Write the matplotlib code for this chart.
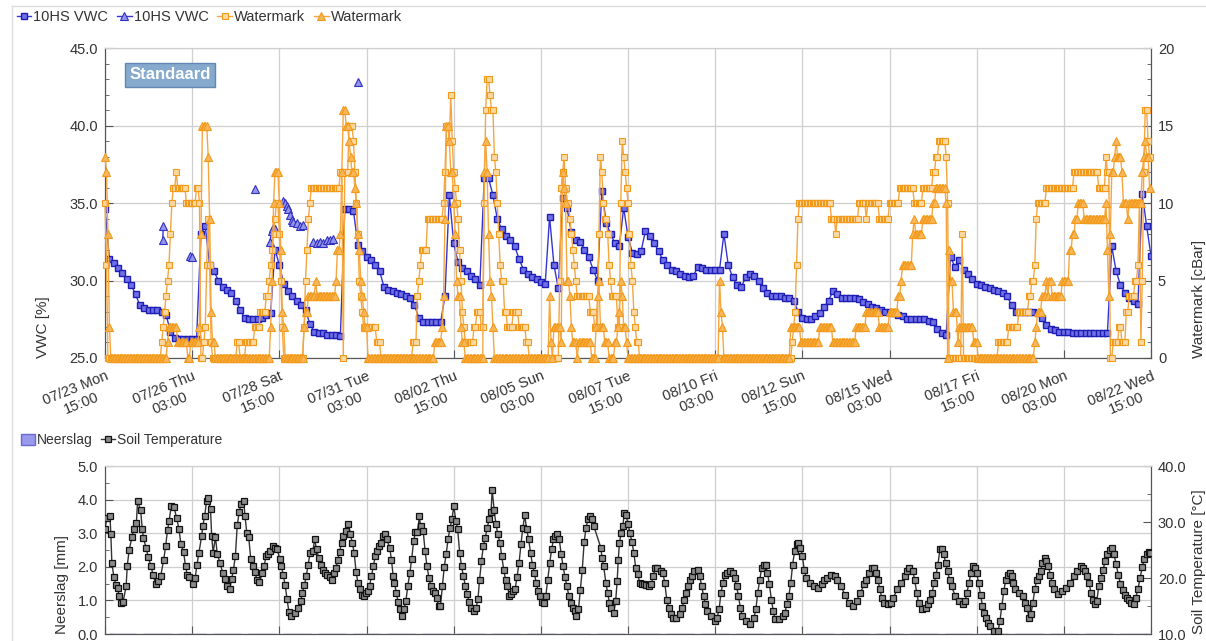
import numpy as np
import pandas as pd
import matplotlib
matplotlib.use("Agg")
import matplotlib.pyplot as plt
import matplotlib.dates as mdates
from matplotlib.lines import Line2D
from matplotlib.patches import Patch
from matplotlib.ticker import MultipleLocator, FormatStrFormatter

plt.rcParams['font.family'] = ['Liberation Sans', 'DejaVu Sans']

# ---- data -------------------------------------------------------------
start = pd.Timestamp("2018-07-23 15:00")
total_hours = 720

# 10HS VWC (squares), one reading every 3 hours, one row per day
vwc_sq = [
    34.6, 31.4, 31.1, 30.8, 30.5, 30.1, 29.7, 29.1,
    28.4, 28.2, 28.1, 28.1, 28.1, 28.0, 27.8, 26.7,
    26.3, 26.2, 26.2, 26.2, 26.2, 26.2, 33.0, 33.5,
    31.0, 30.6, 30.0, 29.6, 29.4, 29.2, 28.7, 28.1,
    27.6, 27.5, 27.5, 27.5, 27.6, 27.8, 27.9, 32.0,
    31.0, 29.8, 29.3, 29.0, 28.7, 28.4, 28.1, 27.2,
    26.7, 26.6, 26.6, 26.5, 26.5, 26.5, 26.4, 34.6,
    34.6, 34.5, 32.3, 31.9, 31.5, 31.3, 31.0, 30.6,
    29.6, 29.4, 29.3, 29.2, 29.1, 29.0, 28.9, 28.4,
    27.6, 27.3, 27.3, 27.3, 27.3, 27.3, 29.0, 35.5,
    32.4, 31.2, 30.8, 30.6, 30.3, 30.1, 29.7, 36.6,
    36.6, 35.5, 34.0, 33.3, 32.9, 32.6, 32.2, 31.4,
    30.7, 30.4, 30.2, 30.1, 29.9, 29.8, 34.1, 31.0,
    29.5, 35.3, 34.7, 33.1, 32.6, 32.5, 32.0, 31.5,
    30.7, 30.0, 35.8, 33.7, 33.0, 32.4, 32.2, 34.7,
    32.8, 31.8, 31.7, 31.9, 33.2, 32.9, 32.4, 31.9,
    31.3, 31.0, 30.7, 30.6, 30.4, 30.3, 30.2, 30.3,
    30.9, 30.8, 30.7, 30.7, 30.7, 30.7, 33.0, 31.0,
    30.2, 29.7, 29.6, 30.2, 30.4, 30.3, 30.0, 29.5,
    29.2, 29.0, 29.0, 29.0, 28.9, 28.9, 28.7, 28.0,
    27.6, 27.5, 27.5, 27.7, 27.9, 28.3, 28.7, 29.3,
    29.1, 28.9, 28.9, 28.9, 28.9, 28.8, 28.6, 28.5,
    28.3, 28.2, 28.1, 28.0, 28.0, 27.9, 27.8, 27.7,
    27.5, 27.5, 27.5, 27.5, 27.5, 27.4, 27.3, 26.9,
    26.6, 26.5, 31.5, 30.9, 31.3, 30.7, 30.4, 30.1,
    29.8, 29.7, 29.6, 29.5, 29.4, 29.3, 29.2, 29.0,
    28.4, 28.0, 28.0, 28.0, 28.0, 28.0, 27.9, 27.6,
    27.1, 26.9, 26.8, 26.7, 26.7, 26.7, 26.6, 26.6,
    26.6, 26.6, 26.6, 26.6, 26.6, 26.6, 26.6, 32.2,
    30.6, 29.7, 29.2, 28.9, 28.7, 28.5, 35.6, 33.5,
    31.6,
]

# 10HS VWC (triangles): a few short bursts, hours since start
vwc_tri_hours = [
    [39.7, 40.1],
    [58.5, 59.6],
    [103.2],
    [113.5, 114.7, 115.8, 117.0],
    [122.7, 123.9, 125.0, 126.1, 127.3, 128.4, 129.6, 131.9, 134.2, 136.5],
    [143.3, 145.6, 147.9, 150.2, 152.5, 154.8, 157.1],
    [174.3],
]
vwc_tri_values = [
    [32.6, 33.5],
    [31.6, 31.5],
    [35.9],
    [32.5, 33.2, 33.4, 33.3],
    [35.1, 35.0, 34.8, 34.6, 34.2, 33.9, 33.8, 33.7, 33.5, 33.6],
    [32.5, 32.4, 32.5, 32.4, 32.6, 32.6, 32.7],
    [42.8],
]

# Watermark (squares), hourly readings in cBar: hour where a level starts, level
wm_sq_start = [
    0, 1, 2, 39, 40, 41, 42, 43, 44, 45, 46, 47, 49, 50, 56, 63, 65, 66, 68, 69,
    70, 71, 72, 73, 74, 91, 93, 97, 103, 107, 111, 113, 114, 115, 116, 117, 118,
    120, 121, 122, 123, 137, 138, 139, 140, 141, 142, 162, 164, 165, 168, 171,
    172, 173, 174, 175, 176, 177, 178, 187, 190, 212, 215, 216, 217, 218, 222,
    233, 234, 235, 237, 238, 239, 240, 241, 242, 243, 244, 245, 246, 247, 248,
    254, 256, 259, 261, 262, 263, 265, 266, 268, 269, 270, 271, 272, 273, 275,
    277, 281, 285, 290, 292, 313, 314, 315, 316, 317, 318, 320, 321, 322, 323,
    324, 325, 334, 337, 340, 341, 342, 343, 344, 346, 347, 348, 349, 353, 355,
    356, 357, 358, 359, 360, 361, 362, 363, 364, 365, 366, 368, 473, 474, 475,
    476, 477, 478, 500, 503, 504, 519, 524, 525, 533, 540, 547, 557, 563, 570,
    572, 574, 579, 580, 581, 590, 591, 615, 622, 629, 636, 638, 640, 641, 642,
    648, 667, 684, 689, 690, 692, 694, 698, 700, 703, 705, 709, 711, 712, 713,
    714, 715, 716, 718, 719,
]
wm_sq_level = [
    10, 6, 0, 1, 2, 3, 4, 5, 6, 8, 10, 11, 12, 11, 10, 11, 10, 0, 1, 2,
    6, 9, 6, 1, 0, 1, 0, 1, 2, 3, 4, 5, 6, 7, 8, 9, 10,
    8, 5, 2, 0, 2, 5, 7, 9, 10, 11, 12, 0, 12, 15, 14,
    12, 10, 8, 5, 4, 3, 2, 1, 0, 1, 4, 5, 6, 7, 9,
    10, 12, 15, 14, 17, 14, 12, 11, 10, 9, 7, 5, 3, 2, 1,
    2, 3, 2, 10, 16, 18, 17, 16, 13, 12, 10, 8, 6, 5, 3,
    2, 3, 2, 1, 0, 5, 11, 12, 13, 11, 10, 9, 8, 7, 6,
    5, 4, 3, 2, 8, 13, 12, 10, 9, 8, 6, 5, 4, 2, 10,
    14, 13, 12, 11, 10, 8, 6, 5, 3, 2, 1, 0, 1, 2, 3,
    6, 9, 10, 9, 8, 9, 10, 9, 10, 9, 10, 11, 10, 11, 12,
    13, 14, 13, 10, 0, 8, 0, 1, 2, 3, 4, 5, 6, 9, 10,
    11, 12, 11, 13, 12, 0, 1, 2, 1, 3, 4, 5, 6, 10, 1,
    5, 12, 16, 14, 13,
]

# Watermark (triangles), same layout
wm_tri_start = [
    0, 1, 2, 3, 4, 43, 44, 50, 57, 59, 65, 66, 67, 71, 72, 73, 74, 76,
    114, 115, 116, 117, 120, 121, 122, 123, 124, 137, 138, 140, 145, 146, 159,
    160, 162, 163, 164, 166, 168, 169, 170, 172, 173, 174, 175, 176, 177, 178,
    179, 181, 227, 232, 233, 234, 235, 237, 238, 240, 241, 242, 243, 245, 246,
    248, 261, 262, 263, 264, 265, 266, 267, 268, 306, 307, 308, 309, 314, 315,
    316, 317, 318, 320, 321, 322, 325, 326, 335, 338, 339, 340, 341, 344, 347,
    351, 353, 354, 355, 356, 357, 359, 360, 423, 424, 425, 426, 472, 479, 492,
    501, 517, 524, 533, 540, 546, 548, 549, 556, 557, 558, 563, 570, 572, 579,
    580, 581, 582, 584, 587, 588, 598, 601, 640, 641, 642, 645, 648, 649, 650,
    652, 659, 664, 666, 668, 670, 674, 689, 690, 691, 692, 693, 695, 696, 697,
    700, 701, 704, 705, 714, 715, 716, 717, 719,
]
wm_tri_level = [
    13, 12, 8, 2, 0, 1, 2, 1, 0, 1, 2, 8, 15, 13, 9, 3, 1, 0,
    2, 5, 10, 12, 10, 7, 3, 2, 0, 2, 3, 4, 5, 4, 5,
    7, 8, 12, 16, 15, 14, 13, 12, 11, 10, 8, 7, 5, 4, 3,
    2, 0, 1, 2, 4, 9, 15, 14, 12, 10, 8, 5, 4, 2, 1,
    0, 12, 14, 12, 8, 5, 4, 2, 0, 4, 1, 0, 2, 1, 12,
    11, 10, 5, 4, 2, 1, 0, 1, 0, 2, 4, 5, 2, 1, 0,
    1, 2, 3, 5, 4, 2, 1, 0, 5, 3, 2, 0, 2, 1, 2,
    1, 2, 3, 2, 3, 4, 5, 6, 8, 9, 8, 9, 10, 11, 10,
    0, 7, 5, 3, 1, 2, 1, 0, 1, 2, 3, 4, 5, 4, 5,
    4, 5, 7, 8, 9, 10, 9, 10, 7, 4, 8, 12, 13, 14, 13,
    12, 10, 9, 10, 12, 13, 14, 13, 11,
]

# Soil temperature: reading times (hours since start) and values in °C
soil_hours = [
    0, 1.3, 3.4, 4.0, 4.7, 6.1, 7.4, 8.7, 9.8, 11.3, 12.4, 14.5, 15.3, 16.6,
    18.5, 19.8, 21.6, 22.4, 24.5, 25.6, 26.4, 28.2, 29.8, 31.7, 33.0, 34.8,
    36.4, 38.3, 40.4, 41.7, 43.0, 44.1, 45.6, 47.5, 49.3, 50.9, 52.2, 54.1,
    55.4, 56.7, 58.0, 60.7, 62.0, 63.3, 64.6, 66.5, 67.3, 68.6, 69.9, 70.7,
    72.6, 73.4, 74.4, 76.0, 77.3, 79.2, 81.0, 82.6, 83.9, 85.8, 87.1, 88.4,
    89.7, 91.0, 92.3, 93.7, 95.5, 96.3, 97.6, 98.9, 100.3, 101.6, 102.9,
    104.7, 106.3, 108.2, 109.5, 110.8, 112.1, 113.5, 115.3, 116.9, 118.7,
    120.1, 121.4, 122.7, 124.0, 125.3, 126.6, 128.0, 130.6, 132.7, 134.6,
    135.9, 137.2, 138.5, 139.8, 141.2, 143.0, 144.3, 145.6, 147.2, 148.5,
    149.9, 151.7, 153.0, 154.9, 156.2, 157.5, 159.1, 160.2, 161.5, 162.8,
    164.1, 165.7, 167.5, 168.9, 170.2, 171.5, 172.8, 174.1, 175.5, 176.8,
    178.1, 179.4, 180.7, 182.1, 183.4, 184.7, 186.0, 187.3, 188.7, 190.0,
    191.3, 192.6, 193.9, 196.0, 197.1, 198.4, 199.2, 200.5, 201.8, 203.2,
    204.5, 205.8, 207.1, 208.4, 209.8, 211.1, 212.4, 213.7, 215.0, 216.4,
    217.2, 219.0, 220.3, 221.6, 223.0, 224.3, 225.6, 226.9, 228.2, 229.6,
    230.9, 232.2, 233.5, 234.8, 236.1, 237.5, 238.8, 240.1, 241.4, 242.7,
    244.1, 245.4, 246.7, 248.0, 249.3, 250.7, 252.0, 253.8, 255.4, 256.7,
    257.8, 259.1, 260.4, 261.7, 263.1, 264.4, 265.7, 266.5, 267.8, 269.1,
    270.4, 271.8, 273.1, 274.4, 275.7, 277.0, 278.4, 279.7, 281.0, 282.3,
    283.6, 285.0, 286.3, 287.6, 288.9, 290.2, 291.6, 292.9, 294.2, 295.5,
    296.8, 298.2, 299.5, 300.8, 302.1, 303.4, 304.7, 306.1, 307.4, 308.7,
    310.0, 311.3, 312.7, 314.0, 315.3, 316.6, 317.9, 319.3, 320.6, 321.9,
    323.2, 324.5, 325.9, 327.2, 328.5, 329.8, 331.1, 332.5, 333.8, 335.1,
    336.4, 341.3, 342.1, 343.2, 344.8, 345.9, 347.2, 348.5, 350.1, 351.5,
    352.5, 353.3, 354.1, 355.2, 356.5, 357.3, 358.7, 360.0, 361.3, 362.7,
    364.0, 365.3, 366.7, 368.0, 369.3, 370.7, 372.5, 374.7, 376.0, 377.3,
    378.7, 380.0, 382.7, 384.0, 385.3, 386.7, 388.0, 389.3, 390.7, 393.3,
    396.0, 397.3, 398.7, 400.0, 401.3, 402.7, 404.0, 405.3, 408.0, 409.3,
    410.7, 412.0, 413.3, 414.7, 417.3, 420.0, 421.3, 422.7, 424.0, 425.3,
    426.7, 428.0, 430.1, 432.0, 433.3, 434.7, 436.0, 437.3, 438.7, 441.3,
    444.0, 446.7, 448.0, 449.3, 450.7, 452.0, 453.3, 454.7, 456.0, 457.3,
    458.7, 460.0, 461.3, 464.0, 466.7, 468.0, 469.3, 470.7, 472.0, 473.3,
    474.7, 476.0, 477.3, 478.7, 480.0, 481.3, 482.7, 485.3, 488.0, 490.7,
    493.3, 494.7, 497.3, 500.0, 502.7, 504.0, 506.7, 509.3, 512.0, 514.7,
    517.3, 520.0, 522.7, 524.0, 526.1, 528.0, 529.3, 530.7, 532.0, 533.3,
    534.7, 536.0, 538.7, 541.3, 542.7, 545.3, 548.0, 550.7, 552.0, 553.3,
    556.0, 557.3, 558.7, 560.0, 562.7, 565.3, 566.7, 568.0, 569.3, 570.7,
    572.0, 573.3, 574.7, 576.0, 577.3, 578.7, 580.0, 581.3, 582.7, 585.3,
    588.0, 590.7, 592.0, 593.3, 594.7, 596.0, 597.3, 598.7, 600.0, 601.3,
    602.7, 604.0, 605.3, 606.7, 608.0, 609.3, 612.0, 614.7, 616.0, 617.3,
    618.7, 620.0, 621.3, 622.7, 624.0, 625.3, 626.7, 629.3, 632.0, 633.3,
    634.7, 636.0, 637.3, 638.7, 640.0, 641.3, 642.7, 644.0, 645.3, 646.7,
    648.0, 649.3, 650.7, 652.0, 653.3, 656.0, 658.7, 661.3, 664.0, 666.7,
    669.3, 672.0, 673.3, 674.7, 676.0, 677.3, 678.7, 680.0, 681.3, 682.7,
    684.0, 685.5, 687.0, 688.5, 690.0, 691.5, 693.0, 694.5, 696.0, 697.5,
    699.0, 700.5, 702.0, 703.5, 705.0, 706.5, 708.0, 709.5, 711.0, 712.5,
    714.0, 715.5, 717.0, 718.5, 719.5,
]
soil_temp = [
    28.7, 30.8, 31.0, 27.8, 22.6, 20.2, 18.8, 18.2, 16.7, 15.6, 15.7, 18.5, 22.2, 25.0,
    27.3, 28.8, 29.9, 33.8, 32.1, 28.8, 27.2, 25.4, 23.7, 22.1, 20.6, 19.0,
    19.4, 20.3, 23.3, 25.7, 28.5, 30.2, 32.9, 32.6, 30.7, 28.7, 26.1, 24.6,
    22.1, 20.5, 20.2, 18.9, 20.0, 22.4, 24.5, 27.5, 29.3, 31.1, 33.8, 34.2,
    32.3, 27.5, 24.5, 27.3, 24.2, 22.7, 20.9, 19.8, 18.6, 18.0, 19.8, 21.5,
    23.9, 29.4, 31.7, 33.3, 33.8, 31.1, 28.1, 27.3, 23.4, 22.1, 21.1,
    19.7, 19.2, 20.9, 22.1, 23.9, 24.2, 24.8, 25.7, 25.4, 25.1,
    23.4, 22.1, 20.5, 18.7, 16.2, 13.9, 13.2, 13.8, 14.7, 15.9,
    17.4, 18.7, 20.3, 22.4, 24.5, 24.8, 26.9, 25.1, 23.6, 22.4,
    21.5, 20.9, 20.6, 20.2, 19.7, 20.9, 21.8, 23.3, 24.7, 26.3,
    27.5, 28.4, 29.7, 27.8, 26.3, 24.5, 21.1, 19.1, 18.0, 16.9,
    16.8, 17.4, 17.7, 18.6, 20.3, 22.1, 23.9, 24.9, 25.7, 26.3,
    27.5, 27.8, 26.9, 25.4, 23.3, 20.3, 19.1, 17.4, 15.7, 14.4,
    13.2, 14.4, 15.9, 18.6, 20.9, 23.4, 26.6, 28.2, 28.2, 31.0,
    29.3, 28.4, 24.8, 22.1, 20.0, 18.6, 17.7, 17.4, 16.5, 15.0,
    15.0, 18.6, 22.0, 24.2, 26.9, 29.0, 30.5, 32.9, 30.2, 28.8,
    24.5, 22.1, 20.3, 18.6, 17.1, 15.7, 14.7, 14.1, 14.7, 16.2,
    19.7, 23.0, 25.7, 27.2, 29.0, 30.5, 31.8, 35.8, 32.2, 29.6,
    27.8, 26.3, 23.9, 21.5, 19.7, 18.6, 16.8, 17.1, 17.7, 18.0,
    20.2, 22.7, 26.0, 29.0, 31.2, 28.7, 26.9, 24.5, 22.4, 20.9,
    19.1, 17.7, 16.8, 15.7, 15.6, 16.8, 19.7, 22.7, 25.1, 26.9,
    27.5, 27.8, 26.9, 24.2, 22.1, 20.2, 18.6, 16.8, 15.6, 14.7,
    14.1, 13.2, 14.4, 17.9, 21.5, 26.4, 29.0, 30.5, 31.1, 30.5,
    29.3, 25.4, 23.6, 22.1, 19.1, 17.4, 15.6, 14.7, 13.8, 15.9,
    19.4, 23.3, 26.3, 28.0, 29.2, 31.6, 31.2, 29.6, 28.1, 26.4,
    24.5, 21.8, 20.8, 19.1, 19.0, 18.9, 18.7, 18.5, 18.9, 20.3,
    21.8, 21.8, 21.2, 20.9, 19.1, 16.1, 14.7, 13.5, 12.8, 12.8,
    13.5, 14.7, 16.1, 17.4, 18.6, 19.7, 20.3, 21.2, 21.5, 20.3,
    18.6, 16.8, 15.3, 14.1, 13.2, 12.3, 12.9, 14.4, 17.4, 19.1,
    20.6, 20.9, 21.2, 20.9, 20.0, 18.6, 16.8, 14.7, 13.2, 12.3,
    11.7, 12.9, 14.4, 17.4, 19.7, 21.8, 22.4, 22.3, 20.9, 18.9,
    16.1, 14.1, 12.6, 12.6, 13.2, 13.8, 15.3, 16.8, 19.1, 22.4,
    24.8, 26.0, 26.3, 25.4, 23.9, 21.5, 20.0, 19.1, 18.5, 18.3,
    18.9, 19.7, 20.0, 20.6, 20.3, 19.7, 18.5, 17.0, 15.6, 15.0,
    15.9, 17.4, 18.9, 19.7, 20.9, 21.8, 21.8, 20.9, 19.7, 18.0,
    16.5, 15.6, 15.3, 15.6, 16.5, 18.0, 19.1, 20.3, 21.2, 21.8,
    21.2, 19.7, 17.4, 15.6, 14.4, 14.7, 15.3, 16.1, 17.4, 19.1,
    20.6, 22.4, 25.1, 25.1, 24.2, 22.7, 21.2, 19.7, 18.5, 16.8,
    15.9, 15.3, 15.9, 17.4, 19.1, 20.9, 22.1, 21.8, 20.9, 19.1,
    17.0, 15.0, 13.8, 12.9, 12.0, 11.4, 10.5, 10.5, 12.3, 15.0,
    17.7, 19.7, 20.6, 20.9, 20.3, 19.1, 18.0, 17.4, 16.8, 15.6,
    14.7, 12.9, 13.5, 15.6, 18.0, 19.7, 20.3, 21.2, 22.7, 23.6,
    23.0, 22.1, 20.6, 19.1, 18.0, 17.1, 17.7, 18.3, 19.1, 20.3,
    21.2, 22.1, 21.8, 21.2, 20.3, 19.1, 17.4, 16.1, 15.3, 15.9,
    18.5, 20.0, 21.5, 23.0, 24.2, 25.0, 25.3, 24.2, 22.5, 20.5,
    19.0, 17.8, 17.0, 16.4, 16.0, 15.6, 15.4, 16.5, 18.0, 20.0,
    22.0, 23.4, 24.3, 24.6, 24.5,
]

# Neerslag (rain), daily totals in mm: no rain in this period
neerslag = [0.0, 0.0, 0.0, 0.0, 0.0, 0.0, 0.0, 0.0, 0.0, 0.0,
            0.0, 0.0, 0.0, 0.0, 0.0, 0.0, 0.0, 0.0, 0.0, 0.0,
            0.0, 0.0, 0.0, 0.0, 0.0, 0.0, 0.0, 0.0, 0.0, 0.0]

# ---- time helpers -----------------------------------------------------
t0 = mdates.date2num(start.to_pydatetime())
t_end = t0 + total_hours / 24


def hours_to_num(h):
    return t0 + np.asarray(h, dtype=float) / 24


def expand_levels(starts, levels):
    counts = np.diff(list(starts) + [total_hours])
    return np.arange(total_hours), np.repeat(levels, counts)


t3 = hours_to_num(np.arange(len(vwc_sq)) * 3)
wm_sq_h, wm_sq_v = expand_levels(wm_sq_start, wm_sq_level)
wm_tri_h, wm_tri_v = expand_levels(wm_tri_start, wm_tri_level)
rain_t = hours_to_num(np.arange(len(neerslag)) * 24 + 12)

tick_pos = [t0 + 2.5 * k for k in range(13)]
tick_lab = [mdates.num2date(t).strftime("%m/%d %a\n%H:%M") for t in tick_pos]

# ---- styling ----------------------------------------------------------
txt = '#333333'
spine_c = '#555555'
grid_c = '#cfcfcf'
blue = '#3535d5'
orange = '#f5a640'

fig = plt.figure(figsize=(12.06, 6.41), dpi=100)
ax = fig.add_axes([0.0871, 0.4415, 0.8673, 0.4836])
ax2 = ax.twinx()
ax3 = fig.add_axes([0.0871, 0.0109, 0.8673, 0.2621])
ax4 = ax3.twinx()

# light frame around the chart
fig.add_artist(Line2D([12 / 1206, 12 / 1206], [0, 1 - 6 / 641], color='#dddddd', lw=1))
fig.add_artist(Line2D([12 / 1206, 1], [1 - 6 / 641, 1 - 6 / 641], color='#dddddd', lw=1))

# ---- top panel --------------------------------------------------------
l1, = ax.plot(t3, vwc_sq, color=blue, lw=1, marker='s', ms=4.6,
              mfc='#6f6fe6', mec='#1e1eb5', mew=1.0, zorder=3)
l2 = None
for hh, vv in zip(vwc_tri_hours, vwc_tri_values):
    ln, = ax.plot(hours_to_num(hh), vv, color=blue, lw=1, marker='^', ms=5.5,
                  mfc='#9494ee', mec='#3030c0', mew=0.8, zorder=3)
    if l2 is None:
        l2 = ln

l3, = ax2.plot(hours_to_num(wm_sq_h), wm_sq_v, color=orange, lw=1, marker='s',
               ms=4.5, mfc='#fcd8a2', mec='#f39a1a', mew=0.8, clip_on=False, zorder=3)
l4, = ax2.plot(hours_to_num(wm_tri_h), wm_tri_v, color=orange, lw=1, marker='^',
               ms=6, mfc='#f7b65a', mec='#f39a1a', mew=0.8, clip_on=False, zorder=4)

ax.set_xlim(t0, t_end)
ax.set_ylim(25, 45)
ax2.set_ylim(0, 20)
ax.yaxis.set_major_locator(MultipleLocator(5))
ax.yaxis.set_minor_locator(MultipleLocator(1))
ax.yaxis.set_major_formatter(FormatStrFormatter('%.1f'))
ax2.yaxis.set_major_locator(MultipleLocator(5))
ax2.yaxis.set_minor_locator(MultipleLocator(1))
ax2.yaxis.set_major_formatter(FormatStrFormatter('%d'))

ax.set_xticks(tick_pos)
ax.set_xticklabels(tick_lab, rotation=22, ha='right', va='top',
                   rotation_mode='anchor', multialignment='center')

ax.set_ylabel('VWC [%]', loc='bottom', fontsize=11, color=txt)
ax.yaxis.set_label_coords(-0.053, 0.0)
ax2.set_ylabel('Watermark [cBar]', loc='bottom', fontsize=11, color=txt)
ax2.yaxis.set_label_coords(1.039, 0.0)

ax2.text(0.062, 0.913, 'Standaard', transform=ax2.transAxes, ha='center',
         va='center', color='white', fontsize=12, fontweight='bold', zorder=10,
         bbox=dict(boxstyle='square,pad=0.25', fc='#86aacd', ec='#6088b3', lw=1))

# ---- bottom panel -----------------------------------------------------
ax3.bar(rain_t, neerslag, width=0.8, color='#9999ee', edgecolor='#6b6bcc')
l5, = ax4.plot(hours_to_num(soil_hours), soil_temp, color='#333333', lw=1,
               marker='s', ms=4.6, mfc='#8a8a8a', mec='#111111', mew=0.9, zorder=3)

ax3.set_xlim(t0, t_end)
ax3.set_ylim(0, 5)
ax4.set_ylim(10, 40)
ax3.yaxis.set_major_locator(MultipleLocator(1))
ax3.yaxis.set_minor_locator(MultipleLocator(0.5))
ax3.yaxis.set_major_formatter(FormatStrFormatter('%.1f'))
ax4.yaxis.set_major_locator(MultipleLocator(10))
ax4.yaxis.set_minor_locator(MultipleLocator(5))
ax4.yaxis.set_major_formatter(FormatStrFormatter('%.1f'))
ax3.set_xticks(tick_pos)
ax3.tick_params(axis='x', labelbottom=False)

ax3.set_ylabel('Neerslag [mm]', loc='bottom', fontsize=11, color=txt)
ax3.yaxis.set_label_coords(-0.034, 0.0)
ax4.set_ylabel('Soil Temperature [°C]', loc='bottom', fontsize=11, color=txt)
ax4.yaxis.set_label_coords(1.039, 0.0)

# ---- common axis look -------------------------------------------------
for a in (ax, ax2, ax3, ax4):
    for s in ('left', 'right', 'bottom'):
        a.spines[s].set_color(spine_c)
    a.spines['top'].set_color(grid_c)
    a.tick_params(which='major', direction='in', length=6, color=spine_c,
                  labelsize=10.5, labelcolor=txt, pad=5)
    a.tick_params(which='minor', direction='in', length=3, color=spine_c)
for a in (ax, ax3):
    a.grid(True, color=grid_c, lw=0.9)
    a.set_axisbelow(True)
    a.tick_params(axis='x', pad=8)

# ---- legends ----------------------------------------------------------
fig.legend([l1, l2, l3, l4], ['10HS VWC', '10HS VWC', 'Watermark', 'Watermark'],
           loc='upper left', bbox_to_anchor=(0.009, 0.993), ncol=4, frameon=False,
           fontsize=10.5, handlelength=1.0, handletextpad=0.15, columnspacing=0.6,
           borderaxespad=0, labelcolor=txt)
fig.legend([Patch(fc='#9999ee', ec='#6b6bcc'), l5], ['Neerslag', 'Soil Temperature'],
           loc='upper left', bbox_to_anchor=(0.013, 0.333), ncol=2, frameon=False,
           fontsize=10, handlelength=1.0, handleheight=0.9, handletextpad=0.15,
           columnspacing=0.6, borderaxespad=0, labelcolor=txt)

fig.savefig('out.png', dpi=100)
